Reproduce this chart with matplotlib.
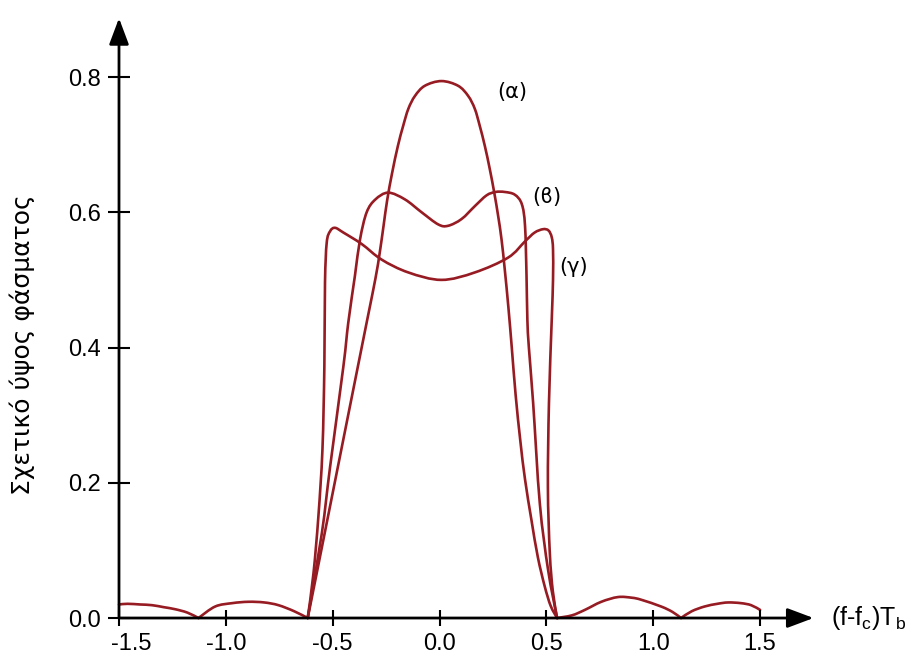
import matplotlib
matplotlib.use("Agg")
import matplotlib.pyplot as plt
import matplotlib.transforms as mtransforms
from matplotlib.path import Path
from matplotlib.patches import PathPatch

# values
# side lobes, one list per lobe (they meet in sharp cusps at the zeros)
lobe1_x = [-1.5, -1.46, -1.40, -1.346, -1.29, -1.237, -1.18, -1.128]
lobe1_y = [0.020, 0.021, 0.020, 0.019, 0.016, 0.013, 0.008, 0.0]
lobe2_x = [-1.128, -1.05, -0.97, -0.894, -0.82, -0.754, -0.68, -0.617]
lobe2_y = [0.0, 0.017, 0.022, 0.024, 0.023, 0.019, 0.010, 0.0]
lobe3_x = [0.55, 0.62, 0.68, 0.757, 0.835, 0.90, 0.944, 1.037, 1.09, 1.13]
lobe3_y = [0.0, 0.004, 0.012, 0.024, 0.031, 0.030, 0.027, 0.017, 0.009, 0.0]
lobe4_x = [1.13, 1.18, 1.24, 1.30, 1.35, 1.41, 1.458, 1.5]
lobe4_y = [0.0, 0.010, 0.017, 0.021, 0.023, 0.022, 0.019, 0.012]

alpha_x = [-0.617, -0.58, -0.50, -0.42, -0.341, -0.300, -0.280, -0.262, -0.245,
           -0.222, -0.195, -0.170, -0.146, -0.115, -0.069, 0.009, 0.087, 0.134,
           0.165, 0.188, 0.212, 0.235, 0.256, 0.274, 0.290, 0.305, 0.322, 0.338,
           0.356, 0.378, 0.40, 0.43, 0.46, 0.492, 0.52, 0.55]
alpha_y = [0.0, 0.058, 0.185, 0.312, 0.437, 0.502, 0.540, 0.580, 0.618,
           0.658, 0.698, 0.728, 0.753, 0.772, 0.787, 0.794, 0.787, 0.772,
           0.753, 0.728, 0.698, 0.664, 0.629, 0.595, 0.560, 0.516, 0.460, 0.400,
           0.330, 0.262, 0.205, 0.145, 0.090, 0.047, 0.018, 0.0]

beta_x = [-0.617, -0.551, -0.512, -0.45, -0.427, -0.396, -0.372, -0.341, -0.300,
          -0.240, -0.162, -0.084, -0.006, 0.040, 0.103, 0.165, 0.220, 0.262,
          0.305, 0.352, 0.385, 0.400, 0.407, 0.411, 0.418, 0.438, 0.469, 0.508,
          0.55]
beta_y = [0.0, 0.125, 0.224, 0.372, 0.437, 0.506, 0.560, 0.600, 0.619,
          0.629, 0.619, 0.600, 0.582, 0.580, 0.590, 0.609, 0.625, 0.630,
          0.630, 0.626, 0.612, 0.580, 0.506, 0.441, 0.400, 0.318, 0.170, 0.071,
          0.0]

gamma_x = [-0.617, -0.59, -0.567, -0.548, -0.539, -0.536, -0.528, -0.512, -0.489,
           -0.45, -0.364, -0.271, -0.146, 0.009, 0.165, 0.321, 0.40, 0.445,
           0.485, 0.510, 0.525, 0.531, 0.531, 0.525, 0.512, 0.507, 0.516, 0.53,
           0.55]
gamma_y = [0.0, 0.066, 0.150, 0.249, 0.372, 0.496, 0.555, 0.572, 0.577,
           0.570, 0.553, 0.530, 0.511, 0.500, 0.511, 0.533, 0.557, 0.570,
           0.575, 0.573, 0.563, 0.545, 0.500, 0.441, 0.318, 0.194, 0.096, 0.040,
           0.0]

curve_labels = ["(α)", "(ϐ)", "(γ)"]
label_pos = [(0.339, 0.778), (0.503, 0.623), (0.625, 0.519)]

x_ticks = [-1.5, -1.0, -0.5, 0.0, 0.5, 1.0, 1.5]
y_ticks = [0.0, 0.2, 0.4, 0.6, 0.8]

red = "#961b22"
plt.rcParams["font.family"] = ["Liberation Sans", "DejaVu Sans"]


def smooth_path(xs, ys):
    # catmull-rom through the read points, drawn as cubic bezier segments
    pts = list(zip(xs, ys))
    n = len(pts)
    verts = [pts[0]]
    codes = [Path.MOVETO]
    for i in range(n - 1):
        p0 = pts[i - 1] if i > 0 else pts[i]
        p1, p2 = pts[i], pts[i + 1]
        p3 = pts[i + 2] if i + 2 < n else pts[i + 1]
        c1 = (p1[0] + (p2[0] - p0[0]) / 6, p1[1] + (p2[1] - p0[1]) / 6)
        c2 = (p2[0] - (p3[0] - p1[0]) / 6, p2[1] - (p3[1] - p1[1]) / 6)
        verts += [c1, c2, p2]
        codes += [Path.CURVE4] * 3
    return Path(verts, codes)


fig = plt.figure(figsize=(9.07, 6.56), dpi=100)
ax = fig.add_axes([0.1312, 0.0579, 0.7728, 0.9278])
ax.set_xlim(-1.5, 1.78)
ax.set_ylim(0, 0.9)
for s in ax.spines.values():
    s.set_visible(False)

# the curves
series = [(lobe1_x, lobe1_y), (lobe2_x, lobe2_y), (lobe3_x, lobe3_y),
          (lobe4_x, lobe4_y), (alpha_x, alpha_y), (beta_x, beta_y),
          (gamma_x, gamma_y)]
for xs, ys in series:
    patch = PathPatch(smooth_path(xs, ys), fill=False, edgecolor=red, lw=1.9,
                      joinstyle="round", capstyle="round", clip_on=False)
    ax.add_patch(patch)

for txt, (lx, ly) in zip(curve_labels, label_pos):
    ax.text(lx, ly, txt, fontsize=15, ha="center", va="center",
            family=["DejaVu Sans"])

# axes with arrows
arrow = dict(arrowstyle="-|>,head_length=0.8,head_width=0.3", color="black",
             lw=2, mutation_scale=20, shrinkA=0, shrinkB=0)
ax.annotate("", xy=(1.75, 0), xytext=(-1.5, 0), arrowprops=arrow,
            annotation_clip=False)
ax.annotate("", xy=(-1.5, 0.887), xytext=(-1.5, 0), arrowprops=arrow,
            annotation_clip=False)

ax.set_xticks(x_ticks)
ax.set_xticklabels([f"{v:.1f}" for v in x_ticks])
ax.set_yticks(y_ticks)
ax.set_yticklabels([f"{v:.1f}" for v in y_ticks])
ax.tick_params(axis="x", direction="inout", length=11, width=1.5, pad=5,
               labelsize=17)
ax.tick_params(axis="y", direction="inout", length=16.5, width=1.5, pad=5,
               labelsize=17)

# -1.5 label sits a bit right of the corner
lab = ax.get_xticklabels()[0]
lab.set_transform(lab.get_transform() +
                  mtransforms.ScaledTranslation(0.12, 0, fig.dpi_scale_trans))

ax.text(1.83, 0.0, "(f-f$_\\mathregular{c}$)T$_\\mathregular{b}$", fontsize=18,
        ha="left", va="center")
fig.text(22 / 907, 1 - 345 / 656, "Σχετικό ύψος φάσματος", rotation=90,
         fontsize=18, ha="center", va="center", family=["DejaVu Sans"])

fig.savefig("out.png", dpi=100)
